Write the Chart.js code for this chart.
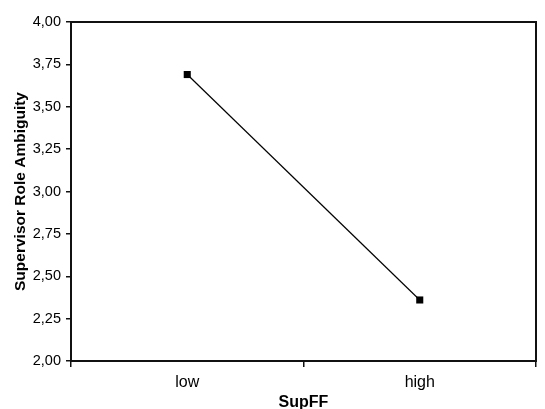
<!DOCTYPE html>
<html>
<head>
<meta charset="utf-8">
<script src="https://cdn.jsdelivr.net/npm/chart.js@4"></script>
<style>
  html, body { margin: 0; padding: 0; background: #fff; }
  #wrap { width: 545px; height: 409px; }
</style>
</head>
<body>
<div id="wrap"><canvas id="chart" width="545" height="409"></canvas></div>
<script>
const categories = ["low", "high"];
const values = [3.69, 2.36];
const yMin = 2;
const yMax = 4;
const yStep = 0.25;

// draw the box around the plot area
const frame = {
  id: "frame",
  afterDraw(chart) {
    const { ctx, chartArea: a } = chart;
    ctx.save();
    ctx.strokeStyle = "#111";
    ctx.lineWidth = 2;
    ctx.strokeRect(a.left, a.top, a.right - a.left, a.bottom - a.top);
    ctx.restore();
  }
};

const ctx = document.getElementById("chart").getContext("2d");
new Chart(ctx, {
  type: "line",
  data: {
    labels: categories,
    datasets: [{
      data: values,
      borderColor: "#000",
      borderWidth: 1.2,
      backgroundColor: "#000",
      pointStyle: "rect",
      pointRadius: 5,
      pointBorderWidth: 0,
      fill: false,
      tension: 0
    }]
  },
  options: {
    responsive: false,
    animation: false,
    layout: { padding: { top: 22, right: 9, left: 0, bottom: 0 } },
    plugins: { legend: { display: false }, tooltip: { enabled: false } },
    scales: {
      x: {
        offset: true,
        grid: { display: true, offset: true, drawOnChartArea: false, drawTicks: true, tickLength: 6, color: "#111", lineWidth: 1.5 },
        border: { display: true, color: "#111", width: 2 },
        ticks: { color: "#000", font: { family: "Liberation Sans", size: 16 }, padding: 6 },
        title: { display: true, text: "SupFF", color: "#000", font: { family: "Liberation Sans", size: 16, weight: "bold", lineHeight: 0.75 }, padding: { top: 0, bottom: 0 } },
        afterFit(scale) { scale.height = 48; }
      },
      y: {
        min: yMin,
        max: yMax,
        grid: { display: true, drawOnChartArea: false, drawTicks: true, tickLength: 5, color: "#111", lineWidth: 1.5 },
        border: { display: true, color: "#111", width: 2 },
        ticks: {
          stepSize: yStep,
          color: "#000",
          font: { family: "Liberation Sans", size: 14.5 },
          padding: 5,
          callback: (v) => v.toFixed(2).replace(".", ",")
        },
        title: { display: true, text: "Supervisor Role Ambiguity", color: "#000", font: { family: "Liberation Sans", size: 15.5, weight: "bold" }, padding: { top: 11, bottom: 4 } },
        afterFit(scale) { scale.width = 71; }
      }
    }
  },
  plugins: [frame]
});
</script>
</body>
</html>
